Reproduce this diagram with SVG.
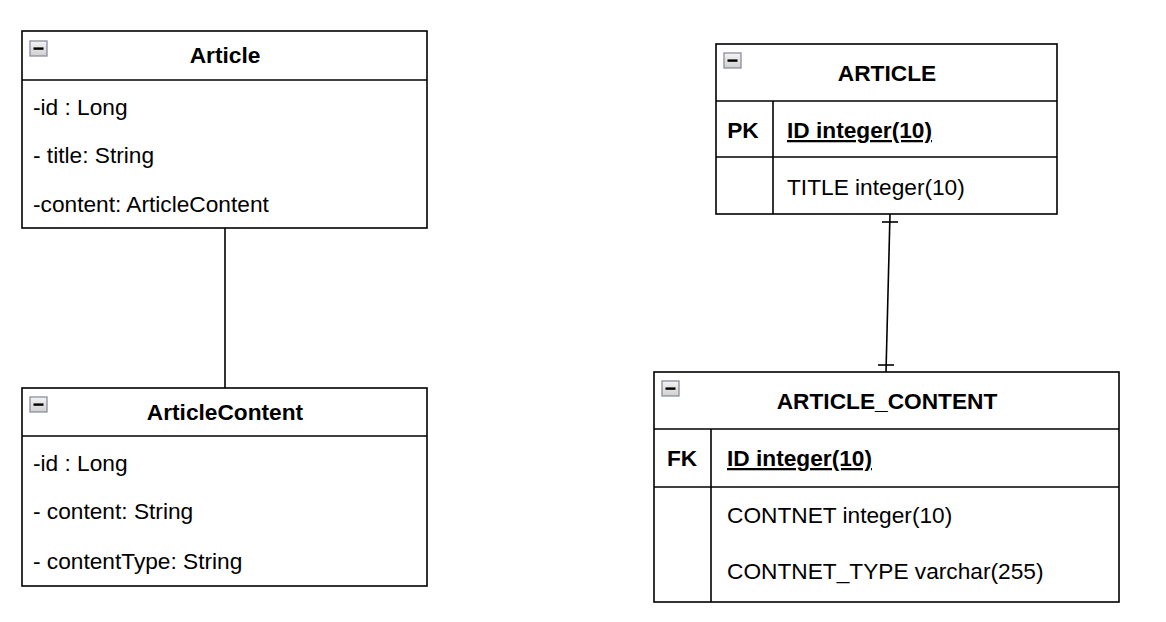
<svg xmlns="http://www.w3.org/2000/svg" width="1166" height="622" viewBox="0 0 1166 622">
<style>
.box{fill:#fff;stroke:#000;stroke-width:1.6}
.ln{stroke:#000;stroke-width:1.6;fill:none}
.t{font-family:"Liberation Sans",Arial,sans-serif;font-size:22.7px;fill:#000}
.b{font-weight:bold}
.c{text-anchor:middle}
.u{text-decoration:underline}
.ic{fill:url(#g);stroke:#8a8f9c;stroke-width:1.3}
</style>
<defs>
<linearGradient id="g" x1="0" y1="0" x2="0" y2="1"><stop offset="0" stop-color="#f4f4f4"/><stop offset="1" stop-color="#d0d0d0"/></linearGradient>
<g id="minus"><rect class="ic" x="0" y="0" width="17" height="15"/><rect x="3.5" y="6.4" width="10" height="2.4" fill="#000"/></g>
</defs>
<rect width="1166" height="622" fill="#fff"/>
<g id="connectors">
<line class="ln" x1="225" y1="228" x2="225" y2="388"/>
<line class="ln" x1="890" y1="214" x2="886" y2="372"/>
<line class="ln" x1="882" y1="222" x2="898" y2="222"/>
<line class="ln" x1="878" y1="365" x2="894" y2="365"/>
</g>
<g id="Article">
<rect class="box" x="22" y="31" width="405" height="197"/>
<line class="ln" x1="22" y1="80" x2="427" y2="80"/>
<use href="#minus" x="30" y="41"/>
<text class="t b c" x="225" y="63">Article</text>
<text class="t" x="33" y="115">-id : Long</text>
<text class="t" x="33" y="163">- title: String</text>
<text class="t" x="33" y="212">-content: ArticleContent</text>
</g>
<g id="ArticleContent">
<rect class="box" x="22" y="388" width="405" height="198"/>
<line class="ln" x1="22" y1="436" x2="427" y2="436"/>
<use href="#minus" x="30" y="397"/>
<text class="t b c" x="225" y="420">ArticleContent</text>
<text class="t" x="33" y="471">-id : Long</text>
<text class="t" x="33" y="519">- content: String</text>
<text class="t" x="33" y="569">- contentType: String</text>
</g>
<g id="ARTICLE">
<rect class="box" x="716" y="44" width="341" height="170"/>
<line class="ln" x1="716" y1="101" x2="1057" y2="101"/>
<line class="ln" x1="716" y1="157" x2="1057" y2="157"/>
<line class="ln" x1="773" y1="101" x2="773" y2="214"/>
<use href="#minus" x="724" y="53"/>
<text class="t b c" x="887" y="81">ARTICLE</text>
<text class="t b c" x="743" y="138">PK</text>
<text class="t b u" x="787" y="138">ID integer(10)</text>
<text class="t" x="787" y="195">TITLE integer(10)</text>
</g>
<g id="ARTICLE_CONTENT">
<rect class="box" x="654" y="372" width="465" height="230"/>
<line class="ln" x1="654" y1="429" x2="1119" y2="429"/>
<line class="ln" x1="654" y1="487" x2="1119" y2="487"/>
<line class="ln" x1="711" y1="429" x2="711" y2="602"/>
<use href="#minus" x="662" y="381"/>
<text class="t b c" x="887" y="409">ARTICLE_CONTENT</text>
<text class="t b c" x="682" y="466">FK</text>
<text class="t b u" x="727" y="466">ID integer(10)</text>
<text class="t" x="727" y="523">CONTNET integer(10)</text>
<text class="t" x="727" y="579">CONTNET_TYPE varchar(255)</text>
</g>
</svg>
